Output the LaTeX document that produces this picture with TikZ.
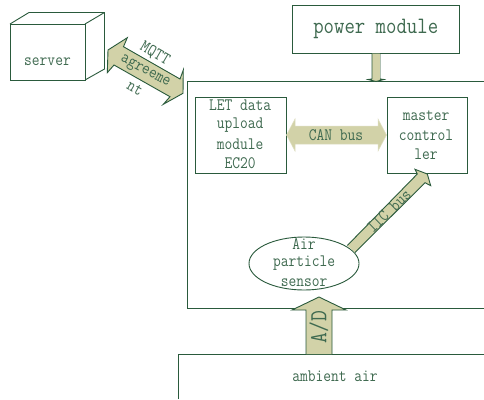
\documentclass[tikz,border=0pt]{standalone}
\usepackage{fontspec}
\setmonofont[FakeStretch=0.86]{Latin Modern Mono}
\usetikzlibrary{shapes.geometric}
\definecolor{ln}{HTML}{2A5A3C}
\definecolor{tx}{HTML}{3F6A50}
\definecolor{fl}{HTML}{D2D2A8}
\tikzset{
  boxn/.style={draw=ln,line width=0.9pt,fill=white,inner sep=0pt,align=center,text=tx,font=\ttfamily\fontsize{17.5}{19}\selectfont},
  lab/.style={inner sep=0pt,text=tx,align=center,font=\ttfamily\fontsize{17.5}{19}\selectfont},
  blockarrow/.style={draw=ln,fill=fl,line width=0.9pt,line join=miter},
  paleark/.style={fill=fl,draw=fl!70!white,line width=0.5pt},
  edge/.style={draw=ln,line width=0.9pt}
}
\begin{document}
\begin{tikzpicture}[x=1pt,y=-1pt]
\useasboundingbox (0,0) rectangle (484,399);
\fill[white] (0,0) rectangle (484,399);
% frames open at the right edge
\draw[edge] (484,81.5) -- (187.5,81.5) -- (187.5,308.5) -- (484,308.5);
\draw[edge] (178,399) -- (178,354) -- (484,354);
% server cube
\draw[edge,line join=round] (10,24) -- (29,12.5) -- (104.5,12.5) -- (104.5,69) -- (85,80);
\draw[edge] (85,24) -- (104.5,12.5);
\node[boxn,minimum width=75pt,minimum height=56pt] (server) at (47.5,52) {};
\node[lab] (serverlab) at (47.5,62) {server};
% boxes
\node[boxn,minimum width=166.5pt,minimum height=47.5pt,font=\ttfamily\fontsize{23.5}{24}\selectfont] (power) at (375.75,29.25) {power module};
\node[boxn,minimum width=91pt,minimum height=76pt] (let) at (240.5,135.5) {};
\node[lab] at (240,105.5) {LET data};
\node[lab] at (240,125) {upload};
\node[lab] at (240,144) {module};
\node[lab] at (240,163) {EC20};
\node[boxn,minimum width=80pt,minimum height=76pt] (master) at (427,135.5) {};
\node[lab] at (426,116) {master};
\node[lab] at (426,135) {control};
\node[lab] at (426,154) {ler};
% ellipse
\node[draw=ln,line width=0.9pt,ellipse,fill=white,minimum width=110pt,minimum height=53pt,inner sep=0pt] (sensor) at (304,263.5) {};
\node[lab] at (304,244) {Air};
\node[lab] at (304,263) {particle};
\node[lab] at (304,283) {sensor};
\node[lab] (ambient) at (335,376) {ambient air};
% block arrows
\draw[blockarrow] (108,50) -- (127.3,37.7) -- (123.5,46.7) -- (180,79) -- (183.3,70) -- (183,93.3) -- (163.3,104.3) -- (170,96.7) -- (114,65) -- (107.3,72.7) -- cycle;
\draw[blockarrow] (372,53.5) -- (372,79) -- (368,79.5) -- (376,81.5) -- (384,79.5) -- (380,79) -- (380,53.5);
\fill[fl] (372.5,54) rectangle (379.5,79);
\draw[paleark] (286.5,135) -- (295,119) -- (295,126) -- (378,126) -- (378,119) -- (386.5,135) -- (378,151) -- (378,144) -- (295,144) -- (295,151) -- cycle;
\draw[blockarrow] (347.3,245.5) -- (417.3,174) -- (415,169.3) -- (427.3,174) -- (430.7,185.7) -- (425,182.7) -- (355,252.5);
\draw[blockarrow] (306,354) -- (306,310) -- (292,310) -- (319,297) -- (346,310) -- (332,310) -- (332,354);
% arrow labels
\node[lab] at (336,135) {CAN bus};
\node[lab,rotate=-30] at (155,54) {MQTT};
\node[lab,rotate=-28] at (145,72) {agreeme};
\node[lab,rotate=-30] at (135,88) {nt};
\node[lab,rotate=44] at (389,211) {IIC bus};
\node[lab,rotate=90,font=\ttfamily\fontsize{24.5}{24}\selectfont] at (319,327) {A/D};
\end{tikzpicture}
\end{document}
